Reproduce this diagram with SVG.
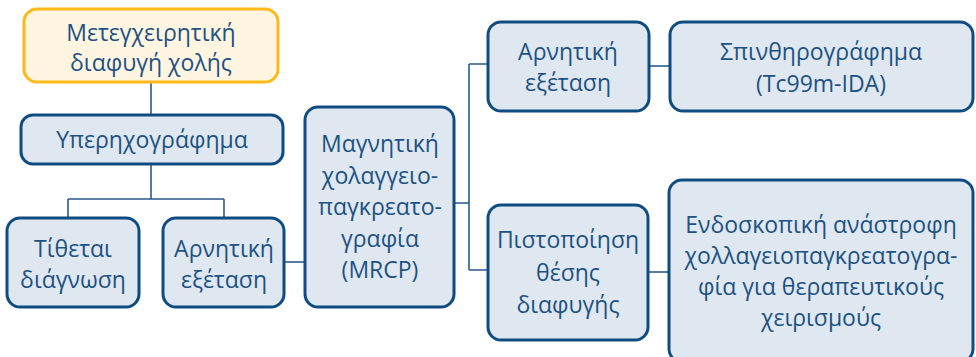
<svg xmlns="http://www.w3.org/2000/svg" width="976" height="357" viewBox="0 0 976 357">
<style>
.box{fill:#DFE7F0;stroke:#0F4C81;stroke-width:3}
.start{fill:#FFF5E1;stroke:#FDB91A;stroke-width:3}
.t{font-family:"Open Sans","Noto Sans",sans-serif;font-size:23px;font-weight:400;fill:#1D5283;text-anchor:middle}
.c{fill:none;stroke:#2A5A8A;stroke-width:1.6}
</style>
<rect width="976" height="357" fill="#FFFFFF"/>
<g id="connectors">
<path class="c" d="M151,83 V115"/>
<path class="c" d="M151,165 V199 M68,199 H224 M68,199 V218 M224,199 V218"/>
<path class="c" d="M284,262 H305"/>
<path class="c" d="M454,203 H469 M469,64 V270 M469,64 H488 M469,270 H488"/>
<path class="c" d="M649,66 H670"/>
<path class="c" d="M648,272 H669"/>
</g>
<g id="n1"><rect class="start" x="24" y="9" width="254" height="73" rx="13"/>
<text class="t" x="151" y="41">Μετεγχειρητική</text><text class="t" x="151" y="71">διαφυγή χολής</text></g>
<g id="n2"><rect class="box" x="21" y="115" width="262" height="49" rx="12"/>
<text class="t" x="152" y="148">Υπερηχογράφημα</text></g>
<g id="n3"><rect class="box" x="7" y="218" width="132" height="89" rx="13"/>
<text class="t" x="73" y="257">Τίθεται</text><text class="t" x="73" y="288">διάγνωση</text></g>
<g id="n4"><rect class="box" x="163" y="218" width="121" height="89" rx="13"/>
<text class="t" x="224" y="257">Αρνητική</text><text class="t" x="224" y="288">εξέταση</text></g>
<g id="n5"><rect class="box" x="305" y="107" width="149" height="200" rx="13"/>
<text class="t" x="380" y="152">Μαγνητική</text><text class="t" x="380" y="184">χολαγγειο-</text><text class="t" x="380" y="215">παγκρεατο-</text><text class="t" x="380" y="247">γραφία</text><text class="t" x="380" y="278">(MRCP)</text></g>
<g id="n6"><rect class="box" x="488" y="22" width="161" height="89" rx="13"/>
<text class="t" x="568" y="60">Αρνητική</text><text class="t" x="568" y="91">εξέταση</text></g>
<g id="n7"><rect class="box" x="488" y="205" width="160" height="135" rx="13"/>
<text class="t" x="568" y="248">Πιστοποίηση</text><text class="t" x="568" y="281">θέσης</text><text class="t" x="568" y="313">διαφυγής</text></g>
<g id="n8"><rect class="box" x="670" y="22" width="303" height="89" rx="13"/>
<text class="t" x="821" y="60">Σπινθηρογράφημα</text><text class="t" x="821" y="92">(Tc99m-IDA)</text></g>
<g id="n9"><rect class="box" x="669" y="180" width="304" height="182" rx="13"/>
<text class="t" x="821" y="233">Ενδοσκοπική ανάστροφη</text><text class="t" x="821" y="264">χολλαγειοπαγκρεατογρα-</text><text class="t" x="821" y="295">φία για θεραπευτικούς</text><text class="t" x="821" y="326">χειρισμούς</text></g>
</svg>
